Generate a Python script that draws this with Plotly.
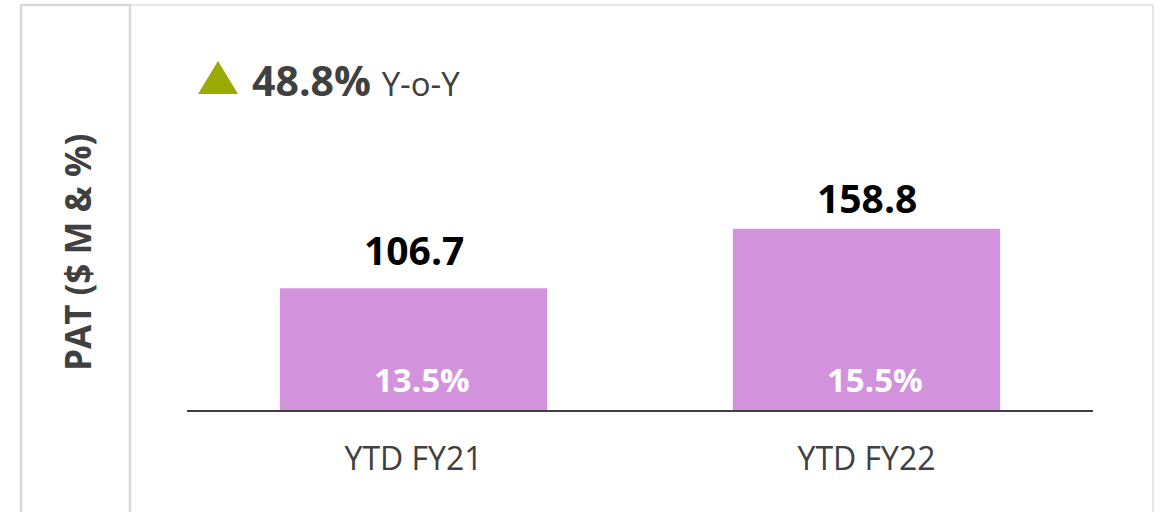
import plotly.graph_objects as go

# PAT by period ($ M) and PAT margin (%)
periods = ["YTD FY21", "YTD FY22"]
pat_musd = [106.7, 158.8]
pat_margin_pct = [13.5, 15.5]

W, H = 1163, 512
PLOT_L, PLOT_R, PLOT_T, PLOT_B = 187, 1093, 60, 410
PX_PER_UNIT = 1.1415

FONT = "Open Sans"
BAR_COLOR = "#D293DC"
TEXT_GREY = "#404040"

# label offsets above each bar top (px)
value_label_shift = [10, 3]


def px_x(px):
    return (px - PLOT_L) / (PLOT_R - PLOT_L)


def px_y(py):
    return (PLOT_B - py) / (PLOT_B - PLOT_T)


yoy_growth = (pat_musd[-1] / pat_musd[0] - 1) * 100

fig = go.Figure(
    go.Bar(
        x=periods,
        y=pat_musd,
        marker=dict(color=BAR_COLOR, line=dict(width=0)),
        hoverinfo="skip",
    )
)

annotations = []
for p, v, m, s in zip(periods, pat_musd, pat_margin_pct, value_label_shift):
    annotations.append(dict(
        x=p, y=v, xref="x", yref="y", text=f"<b>{v:.1f}</b>",
        showarrow=False, yanchor="bottom", yshift=s,
        font=dict(family=FONT, size=39, color="#000000"),
    ))
    annotations.append(dict(
        x=p, y=0, xref="x", yref="y", text=f"<b>{m:.1f}%</b>",
        showarrow=False, yanchor="bottom", yshift=6, xshift=8,
        font=dict(family=FONT, size=33, color="#FFFFFF"),
    ))

# year-over-year headline
annotations.append(dict(
    x=px_x(250), y=px_y(80), xref="paper", yref="paper",
    xanchor="left", yanchor="middle", showarrow=False,
    text=f"<b>{yoy_growth:.1f}%</b> <span style='font-size:33px'>Y-o-Y</span>",
    font=dict(family=FONT, size=41, color=TEXT_GREY),
))

# vertical axis caption
annotations.append(dict(
    x=px_x(78), y=px_y(253), xref="paper", yref="paper",
    xanchor="center", yanchor="middle", showarrow=False, textangle=-90,
    text="<b>PAT ($ M &amp; %)</b>",
    font=dict(family=FONT, size=35, color=TEXT_GREY),
))

shapes = [
    # up-arrow marker beside the headline
    dict(type="path", xref="paper", yref="paper",
         path=f"M {px_x(198)} {px_y(94)} L {px_x(238)} {px_y(94)} L {px_x(218)} {px_y(61)} Z",
         fillcolor="#9AAA00", line=dict(width=0)),
    # caption panel frame
    dict(type="line", xref="paper", yref="paper", x0=px_x(21), x1=px_x(21),
         y0=px_y(5), y1=px_y(515), line=dict(color="#D9D9D9", width=2.5)),
    dict(type="line", xref="paper", yref="paper", x0=px_x(130), x1=px_x(130),
         y0=px_y(5), y1=px_y(515), line=dict(color="#D9D9D9", width=2.5)),
    dict(type="line", xref="paper", yref="paper", x0=px_x(20), x1=px_x(131),
         y0=px_y(5), y1=px_y(5), line=dict(color="#D9D9D9", width=2.5)),
    # chart panel frame
    dict(type="line", xref="paper", yref="paper", x0=px_x(131), x1=px_x(1154),
         y0=px_y(5), y1=px_y(5), line=dict(color="#E6E6E6", width=2)),
    dict(type="line", xref="paper", yref="paper", x0=px_x(1153), x1=px_x(1153),
         y0=px_y(5), y1=px_y(515), line=dict(color="#E6E6E6", width=2)),
]

fig.update_layout(
    width=W, height=H,
    margin=dict(l=PLOT_L, r=W - PLOT_R, t=PLOT_T, b=H - PLOT_B, pad=0),
    paper_bgcolor="white", plot_bgcolor="white",
    bargap=0.41,
    showlegend=False,
    annotations=annotations,
    shapes=shapes,
    font=dict(family=FONT, color=TEXT_GREY),
    xaxis=dict(
        showline=True, linecolor=TEXT_GREY, linewidth=2,
        ticks="", showgrid=False, zeroline=False,
        tickfont=dict(family=FONT, size=32, color=TEXT_GREY),
        ticklabelstandoff=20, fixedrange=True,
    ),
    yaxis=dict(
        visible=False, range=[0, (PLOT_B - PLOT_T) / PX_PER_UNIT],
        showgrid=False, zeroline=False, fixedrange=True,
    ),
)

fig.write_html("out.html", config={"displayModeBar": False})
